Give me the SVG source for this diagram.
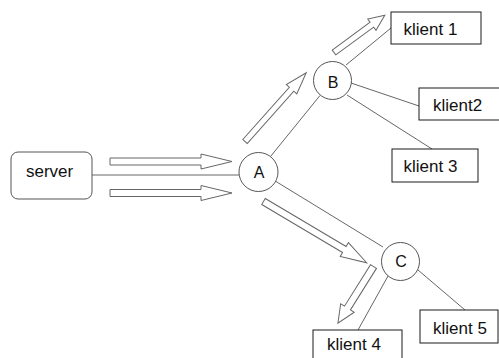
<svg xmlns="http://www.w3.org/2000/svg" width="499" height="358" viewBox="0 0 499 358">
  <style>
    .box { fill: #fff; stroke: #1a1a1a; stroke-width: 1; }
    .srv { fill: #fff; stroke: #555; stroke-width: 1; }
    .hub { fill: #fff; stroke: #555; stroke-width: 1; }
    .link { stroke: #666; stroke-width: 1; fill: none; }
    .flow { fill: #fff; stroke: #666; stroke-width: 1; stroke-linejoin: miter; }
    text { font-family: "Liberation Sans", Arial, sans-serif; fill: #111; }
    .lbl { font-size: 17px; }
    .hl { font-size: 16px; text-anchor: middle; }
  </style>

  <rect width="499" height="358" fill="#fff"/>

  <!-- plain connectors -->
  <g id="connectors">
    <line class="link" x1="92" y1="175" x2="239" y2="175"/>
    <line class="link" x1="270.5" y1="156.5" x2="320" y2="95.5"/>
    <line class="link" x1="346" y1="65" x2="391" y2="28"/>
    <line class="link" x1="351" y1="83" x2="419" y2="106"/>
    <line class="link" x1="347" y1="95" x2="432" y2="149"/>
    <line class="link" x1="276" y1="181.5" x2="383" y2="247"/>
    <line class="link" x1="388" y1="276" x2="358" y2="330"/>
    <line class="link" x1="418" y1="270" x2="465" y2="310"/>
  </g>

  <!-- hollow flow arrows (tail at origin, pointing along +x) -->
  <g id="flows">
    <polygon class="flow" transform="translate(110,161.5)" points="0,-3.5 91,-3.5 91,-7.5 122,0 91,7.5 91,3.5 0,3.5"/>
    <polygon class="flow" transform="translate(110,193)" points="0,-3.5 91,-3.5 91,-7.5 122,0 91,7.5 91,3.5 0,3.5"/>
    <polygon class="flow" transform="translate(245,141.5) rotate(-48.3)" points="0,-3 70,-3 70,-7 92,0 70,7 70,3 0,3"/>
    <polygon class="flow" transform="translate(334,52.5) rotate(-36.3)" points="0,-3 47,-3 47,-7 63,0 47,7 47,3 0,3"/>
    <polygon class="flow" transform="translate(263.5,201.5) rotate(30.7)" points="0,-3.5 94,-3.5 94,-8 120,0 94,8 94,3.5 0,3.5"/>
    <polygon class="flow" transform="translate(373.5,266.5) rotate(122.1)" points="0,-3.5 49,-3.5 49,-8 67,0 49,8 49,3.5 0,3.5"/>
  </g>

  <g id="server">
    <rect class="srv" x="11" y="152" width="81" height="47" rx="7"/>
    <text class="lbl" x="26" y="177">server</text>
  </g>

  <g id="hubA">
    <circle class="hub" cx="258.5" cy="172" r="19.5"/>
    <text class="hl" x="259" y="178">A</text>
  </g>
  <g id="hubB">
    <circle class="hub" cx="332.5" cy="80.5" r="19"/>
    <text class="hl" x="333" y="88">B</text>
  </g>
  <g id="hubC">
    <circle class="hub" cx="400.5" cy="261.5" r="19"/>
    <text class="hl" x="401" y="267">C</text>
  </g>

  <g id="klient1">
    <rect class="box" x="391" y="12" width="90" height="32"/>
    <text class="lbl" x="403.5" y="34.5">klient 1</text>
  </g>
  <g id="klient2">
    <rect class="box" x="419" y="88" width="85" height="32"/>
    <text class="lbl" x="433" y="111">klient2</text>
  </g>
  <g id="klient3">
    <rect class="box" x="392" y="149" width="86" height="33"/>
    <text class="lbl" x="403.5" y="172">klient 3</text>
  </g>
  <g id="klient4">
    <rect class="box" x="313" y="330" width="89" height="35"/>
    <text class="lbl" x="327" y="350">klient 4</text>
  </g>
  <g id="klient5">
    <rect class="box" x="420" y="310" width="78" height="33"/>
    <text class="lbl" x="433" y="334">klient 5</text>
  </g>
</svg>
